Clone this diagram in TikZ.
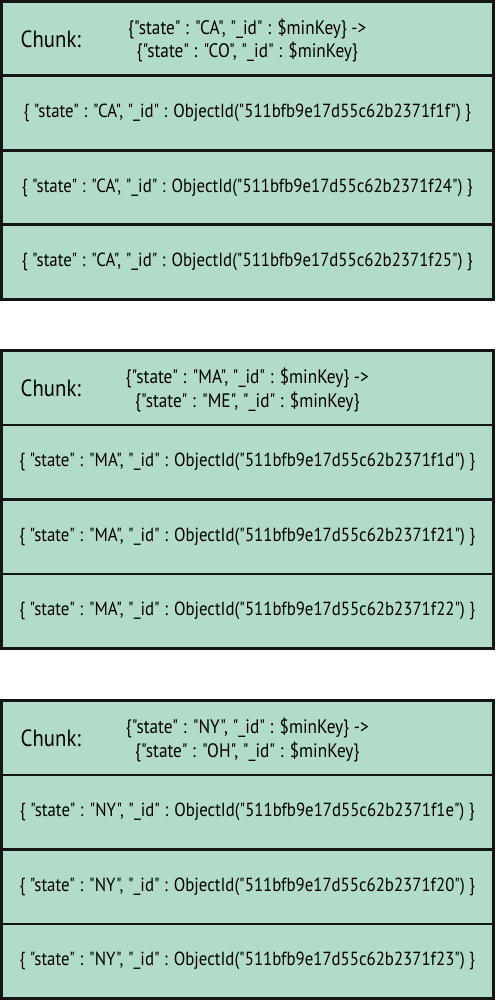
\documentclass[tikz,border=0pt]{standalone}
\usepackage{fontspec}
\setmainfont{PT Sans}[Ligatures=TeXOff, FakeStretch=0.885]
\definecolor{chunkfill}{HTML}{B3DCC8}
\definecolor{edgeink}{HTML}{141414}
\tikzset{
  rowbox/.style={draw=edgeink, fill=chunkfill, line width=2.6pt,
    minimum width=492pt, minimum height=74.5pt, inner sep=0pt,
    font=\fontsize{19}{22}\selectfont},
  chunklabel/.style={anchor=west, inner sep=0pt, font=\fontsize{23.5}{26}\selectfont},
  rangetext/.style={align=center, inner sep=0pt, font=\fontsize{19.5}{23.5}\selectfont}
}
\newcommand{\qq}{"}
\begin{document}
\begin{tikzpicture}[x=1pt,y=-1pt]
\useasboundingbox (0,0) rectangle (495,1000);
% one shard chunk: a header row with its key range, then three documents
\foreach \g/\top/\lo/\hi/\da/\db/\dc in {
  a/1.3/CA/CO/511bfb9e17d55c62b2371f1f/511bfb9e17d55c62b2371f24/511bfb9e17d55c62b2371f25,
  b/350.5/MA/ME/511bfb9e17d55c62b2371f1d/511bfb9e17d55c62b2371f21/511bfb9e17d55c62b2371f22,
  c/700.5/NY/OH/511bfb9e17d55c62b2371f1e/511bfb9e17d55c62b2371f20/511bfb9e17d55c62b2371f23}{
  \node[rowbox] (\g-head) at (247.3,\top+37.25) {};
  \node[chunklabel] (\g-label) at ([xshift=20.5pt,yshift=-1pt]\g-head.west) {Chunk:};
  \node[rangetext] (\g-range) at ([yshift=-2pt]\g-head.center) {\{\qq state\qq{} : \qq\lo\qq, \qq\_id\qq{} : \$minKey\} ->\\ \{\qq state\qq{} : \qq\hi\qq, \qq\_id\qq{} : \$minKey\}};
  \node[rowbox] (\g-doc1) at (247.3,\top+111.75) {\{ \qq state\qq{} : \qq\lo\qq, \qq\_id\qq{} : ObjectId(\qq\da\qq) \}};
  \node[rowbox] (\g-doc2) at (247.3,\top+186.25) {\{ \qq state\qq{} : \qq\lo\qq, \qq\_id\qq{} : ObjectId(\qq\db\qq) \}};
  \node[rowbox] (\g-doc3) at (247.3,\top+260.75) {\{ \qq state\qq{} : \qq\lo\qq, \qq\_id\qq{} : ObjectId(\qq\dc\qq) \}};
}
\end{tikzpicture}
\end{document}
